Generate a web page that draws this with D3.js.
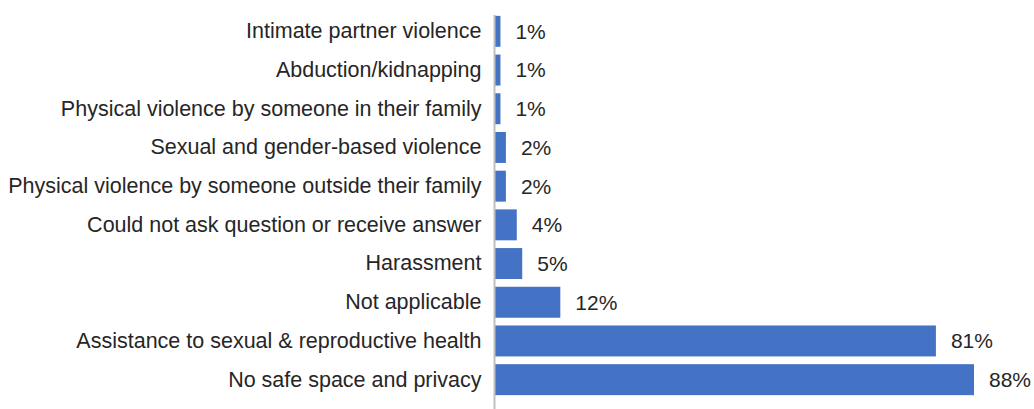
<!DOCTYPE html>
<html>
<head>
<meta charset="utf-8">
<script src="https://cdn.jsdelivr.net/npm/d3@7"></script>
<style>
  html, body { margin: 0; padding: 0; background: #fff; }
  svg { display: block; }
  text { font-family: "Liberation Sans", Arial, sans-serif; fill: #262626; }
</style>
</head>
<body>
<svg id="chart" width="1034" height="409"></svg>
<script>
// Categories, top to bottom
const categories = [
  "Intimate partner violence",
  "Abduction/kidnapping",
  "Physical violence by someone in their family",
  "Sexual and gender-based violence",
  "Physical violence by someone outside their family",
  "Could not ask question or receive answer",
  "Harassment",
  "Not applicable",
  "Assistance to sexual & reproductive health",
  "No safe space and privacy"
];
// Share of respondents (%)
const values = [1, 1, 1, 2, 2, 4, 5, 12, 81, 88];

const svg = d3.select("#chart");
const margin = { top: 12, left: 495, right: 60, bottom: 0 };
const width = 1034, height = 409;

const x = d3.scaleLinear()
  .domain([0, 88])
  .range([margin.left, width - margin.right]);

const y = d3.scaleBand()
  .domain(categories)
  .range([margin.top, 399])
  .paddingInner(0.2)
  .paddingOuter(0.1);

const data = categories.map((c, i) => ({ cat: c, val: values[i] }));

// Bars
svg.append("g")
  .selectAll("rect")
  .data(data)
  .join("rect")
  .attr("x", x(0))
  .attr("y", d => y(d.cat))
  .attr("width", d => x(d.val) - x(0))
  .attr("height", y.bandwidth())
  .attr("fill", "#4472C4");

// Category axis
const yAxis = svg.append("g")
  .attr("transform", `translate(${x(0) - 0.5},0)`)
  .call(d3.axisLeft(y).tickSize(0).tickPadding(13));
yAxis.select(".domain")
  .attr("d", `M0,15V409`)
  .attr("stroke", "#BFBFBF")
  .attr("stroke-width", 2);
yAxis.selectAll("text")
  .style("font-size", "21.5px")
  .style("font-family", "'Liberation Sans', Arial, sans-serif")
  .attr("fill", "#262626");

// Value labels
svg.append("g")
  .selectAll("text")
  .data(data)
  .join("text")
  .attr("x", d => x(d.val) + 15)
  .attr("y", d => y(d.cat) + y.bandwidth() / 2)
  .attr("dy", "0.35em")
  .style("font-size", "21px")
  .text(d => d.val + "%");
</script>
</body>
</html>
